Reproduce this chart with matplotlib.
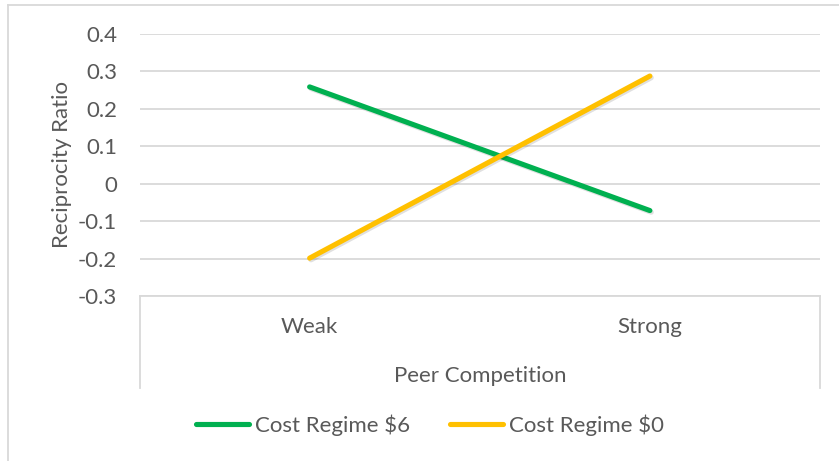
import matplotlib
matplotlib.use("Agg")
import matplotlib.pyplot as plt
import matplotlib.patheffects as pe
from matplotlib.lines import Line2D

plt.rcParams['font.family'] = ['Lato', 'DejaVu Sans']

categories = ["Weak", "Strong"]
regime6 = [0.258, -0.072]
regime0 = [-0.199, 0.287]
yticks = [-0.3, -0.2, -0.1, 0, 0.1, 0.2, 0.3, 0.4]
ytick_labels = ["-0.3", "-0.2", "-0.1", "0", "0.1", "0.2", "0.3", "0.4"]

txt = "#595959"
grid = "#d9d9d9"
fs = 16

W, H = 839, 461
fig = plt.figure(figsize=(W / 100, H / 100), dpi=100)
ax = fig.add_axes([139.5 / W, 1 - 296 / H, (820 - 139.5) / W, (296 - 33.7) / H])

shadow = [pe.SimpleLineShadow(offset=(1, -1.2), alpha=0.12, shadow_color="k"), pe.Normal()]
x = range(len(categories))
ax.plot(x, regime6, color="#00B050", lw=3.7, solid_capstyle="round",
        label="Cost Regime $6", path_effects=shadow)
ax.plot(x, regime0, color="#FFC000", lw=3.7, solid_capstyle="round",
        label="Cost Regime $0", path_effects=shadow)

ax.set_xlim(-0.5, 1.5)
ax.set_ylim(-0.3, 0.4)
ax.set_yticks(yticks)
ax.set_yticklabels(ytick_labels)
ax.set_xticks(list(x))
ax.set_xticklabels(categories)
ax.yaxis.grid(True, color=grid, lw=1.3)
ax.set_axisbelow(True)
for s in ["top", "right", "left"]:
    ax.spines[s].set_visible(False)
ax.spines["bottom"].set_color(grid)
ax.spines["bottom"].set_linewidth(1.3)
ax.tick_params(axis="both", length=0, colors=txt, labelsize=fs)
ax.tick_params(axis="y", pad=16)
ax.tick_params(axis="x", pad=15)
ax.set_ylabel("Reciprocity Ratio", color=txt, fontsize=fs, labelpad=4)
ax.set_xlabel("Peer Competition", color=txt, fontsize=fs, labelpad=21)

# category axis box lines below plot
for xp in [139.5, 820]:
    fig.add_artist(Line2D([xp / W, xp / W], [1 - 296 / H, 1 - 388 / H], color=grid, lw=1.3))

# chart border
fig.add_artist(Line2D([8 / W, 1], [1 - 5 / H, 1 - 5 / H], color=grid, lw=1.3))
fig.add_artist(Line2D([8 / W, 8 / W], [0, 1 - 5 / H], color=grid, lw=1.3))

leg = fig.legend(loc="center", bbox_to_anchor=(430 / W, 1 - 425 / H), ncol=2, frameon=False,
                 fontsize=fs, handlelength=2.4, handletextpad=0.25, columnspacing=1.8)
for t in leg.get_texts():
    t.set_color(txt)
for l in leg.get_lines():
    l.set_path_effects([])

fig.savefig("out.png", dpi=100)
